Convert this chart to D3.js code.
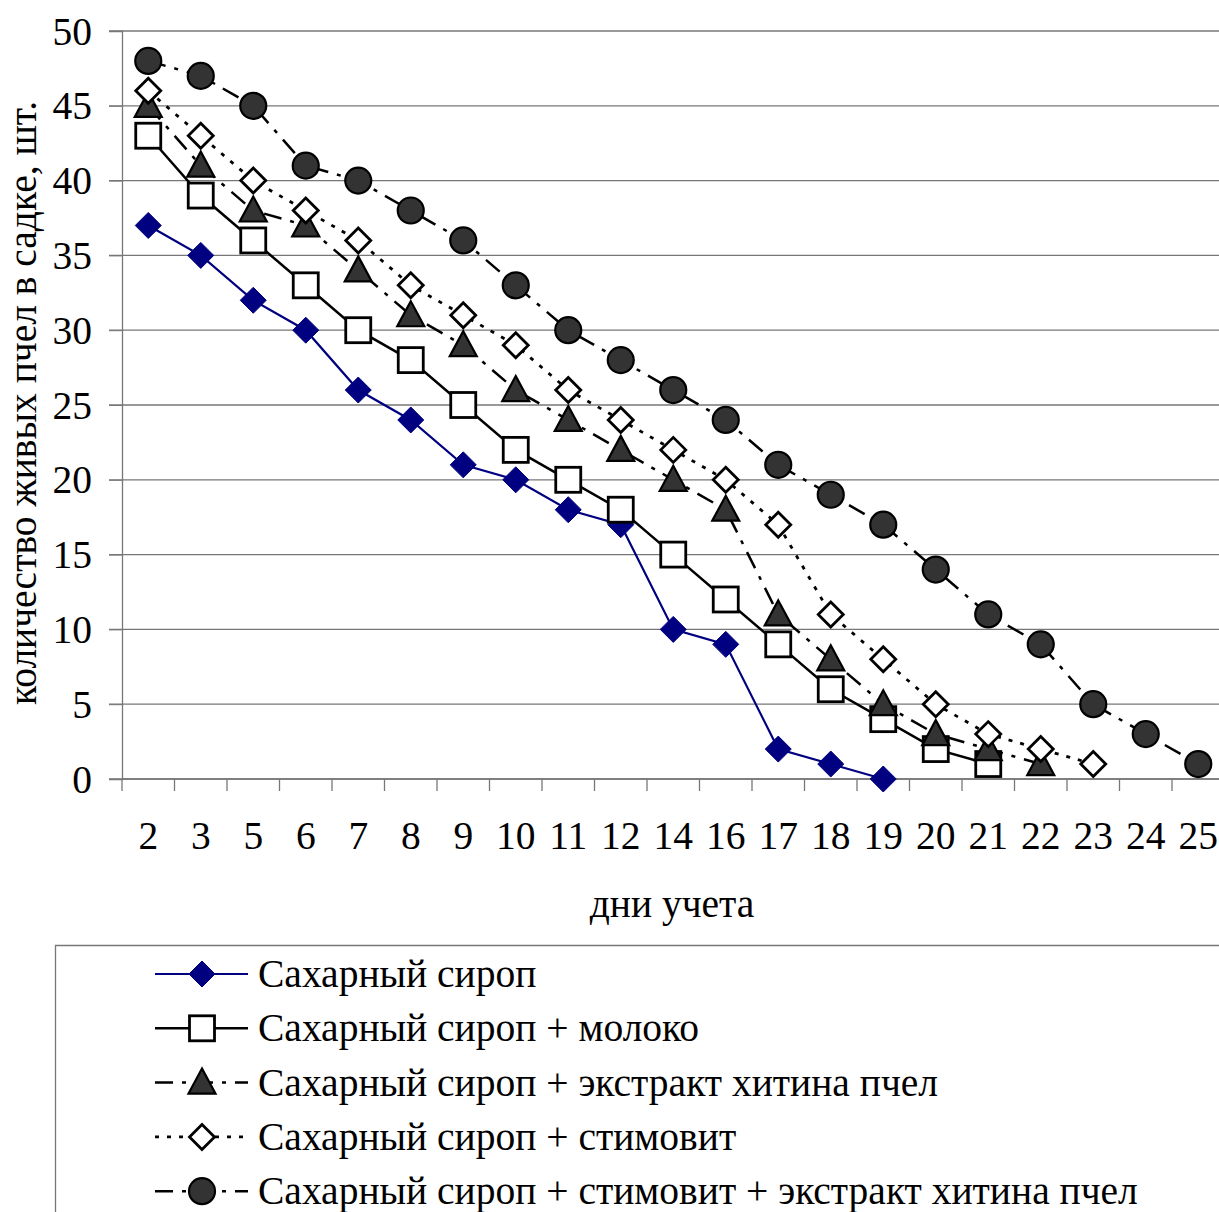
<!DOCTYPE html>
<html>
<head>
<meta charset="utf-8">
<script src="https://cdn.jsdelivr.net/npm/d3@7"></script>
<style>
  body { margin: 0; background: #fff; }
  svg text { font-family: "Liberation Serif", "Times New Roman", serif; fill: #000; }
</style>
</head>
<body>
<div id="chart"></div>
<script>
var days = ["2", "3", "5", "6", "7", "8", "9", "10", "11", "12", "14", "16", "17", "18", "19", "20", "21", "22", "23", "24", "25"];
var syrup = [37, 35, 32, 30, 26, 24, 21, 20, 18, 17, 10, 9, 2, 1, 0];
var syrupMilk = [43, 39, 36, 33, 30, 28, 25, 22, 20, 18, 15, 12, 9, 6, 4, 2, 1];
var syrupChitin = [45, 41, 38, 37, 34, 31, 29, 26, 24, 22, 20, 18, 11, 8, 5, 3, 2, 1];
var syrupStim = [46, 43, 40, 38, 36, 33, 31, 29, 26, 24, 22, 20, 17, 11, 8, 5, 3, 2, 1];
var syrupStimChitin = [48, 47, 45, 41, 40, 38, 36, 33, 30, 28, 26, 24, 21, 19, 17, 14, 11, 9, 5, 3, 1];
var seriesNames = [
    "Сахарный сироп",
    "Сахарный сироп + молоко",
    "Сахарный сироп + экстракт хитина пчел",
    "Сахарный сироп + стимовит",
    "Сахарный сироп + стимовит + экстракт хитина пчел"
];
var yTicks = [0, 5, 10, 15, 20, 25, 30, 35, 40, 45, 50];

var series = [
    {name: seriesNames[0], values: syrup, color: "#000080", dash: null, marker: "diamond", fill: "#000080", width: 2.2},
    {name: seriesNames[1], values: syrupMilk, color: "#000", dash: null, marker: "square", fill: "#fff", width: 2.5},
    {name: seriesNames[2], values: syrupChitin, color: "#000", dash: "18,9,4,9", marker: "triangle", fill: "#333", width: 2.5},
    {name: seriesNames[3], values: syrupStim, color: "#000", dash: "4,8", marker: "odiamond", fill: "#fff", width: 2.8},
    {name: seriesNames[4], values: syrupStimChitin, color: "#000", dash: "18,9,4,9", marker: "circle", fill: "#333", width: 2.5}
];

var W = 1219, H = 1212;
var plotLeft = 122, plotTop = 31, plotBottom = 779;
var bandW = 52.5;
var fontSize = "39.5px";

var svg = d3.select("#chart").append("svg")
    .attr("width", W)
    .attr("height", H);

var x = d3.scaleBand()
    .domain(days)
    .range([plotLeft, plotLeft + bandW * days.length]);

var y = d3.scaleLinear()
    .domain([0, 50])
    .range([plotBottom, plotTop]);

// gridlines
svg.append("g")
    .selectAll("line")
    .data(yTicks)
    .enter()
    .append("line")
    .attr("x1", plotLeft - 13)
    .attr("x2", W)
    .attr("y1", function(d) { return y(d); })
    .attr("y2", function(d) { return y(d); })
    .attr("stroke", "#777")
    .attr("stroke-width", 1.3);

// y axis
var yAxis = svg.append("g")
    .attr("transform", "translate(" + plotLeft + ",0)")
    .call(d3.axisLeft(y).tickValues(yTicks).tickSize(13).tickPadding(17));
yAxis.select(".domain").attr("stroke", "#777").attr("stroke-width", 1.3);
yAxis.selectAll(".tick line").attr("stroke", "#777");
yAxis.selectAll("text")
    .style("font-size", fontSize)
    .attr("font-family", null)
    .attr("dy", "0.33em");

// x axis: ticks at category boundaries
var xAxis = svg.append("g")
    .attr("transform", "translate(0," + plotBottom + ")");
xAxis.append("line")
    .attr("x1", plotLeft).attr("x2", W)
    .attr("stroke", "#777").attr("stroke-width", 1.3);
xAxis.selectAll(".bt")
    .data(days)
    .enter()
    .append("line")
    .attr("x1", function(d) { return x(d); })
    .attr("x2", function(d) { return x(d); })
    .attr("y1", 0).attr("y2", 12)
    .attr("stroke", "#777").attr("stroke-width", 1.3);
xAxis.selectAll("text")
    .data(days)
    .enter()
    .append("text")
    .attr("x", function(d) { return x(d) + x.bandwidth() / 2; })
    .attr("y", 70)
    .attr("text-anchor", "middle")
    .style("font-size", fontSize)
    .text(function(d) { return d; });

// axis titles
svg.append("text")
    .attr("x", 672)
    .attr("y", 917)
    .attr("text-anchor", "middle")
    .style("font-size", fontSize)
    .text("дни учета");

svg.append("text")
    .attr("transform", "translate(36,403) rotate(-90)")
    .attr("text-anchor", "middle")
    .style("font-size", fontSize)
    .text("количество живых пчел в садке, шт.");

function drawMarker(g, type, fill, color) {
    if (type == "diamond") {
        g.append("path").attr("d", "M0,-13L13,0L0,13L-13,0Z")
            .attr("fill", fill).attr("stroke", color).attr("stroke-width", 1);
    } else if (type == "odiamond") {
        g.append("path").attr("d", "M0,-12.5L12.5,0L0,12.5L-12.5,0Z")
            .attr("fill", fill).attr("stroke", color).attr("stroke-width", 2.8);
    } else if (type == "square") {
        g.append("rect").attr("x", -12.5).attr("y", -12.5).attr("width", 25).attr("height", 25)
            .attr("fill", fill).attr("stroke", color).attr("stroke-width", 2.8);
    } else if (type == "triangle") {
        g.append("path").attr("d", "M0,-14L13.5,11L-13.5,11Z")
            .attr("fill", fill).attr("stroke", color).attr("stroke-width", 2.2);
    } else if (type == "circle") {
        g.append("circle").attr("r", 13)
            .attr("fill", fill).attr("stroke", color).attr("stroke-width", 2.2);
    }
}

var line = d3.line()
    .x(function(d, i) { return x(days[i]) + x.bandwidth() / 2; })
    .y(function(d) { return y(d); });

series.forEach(function(s) {
    var g = svg.append("g");
    g.append("path")
        .attr("d", line(s.values))
        .attr("fill", "none")
        .attr("stroke", s.color)
        .attr("stroke-width", s.width)
        .attr("stroke-dasharray", s.dash);
    s.values.forEach(function(v, i) {
        var m = g.append("g")
            .attr("transform", "translate(" + (x(days[i]) + x.bandwidth() / 2) + "," + y(v) + ")");
        drawMarker(m, s.marker, s.fill, s.color);
    });
});

// legend
var legend = svg.append("g");
legend.append("path")
    .attr("d", "M55.5," + (H + 2) + "V945.5H" + (W + 2))
    .attr("fill", "none")
    .attr("stroke", "#777")
    .attr("stroke-width", 1.3);

series.forEach(function(s, i) {
    var ly = 974 + i * 54.3;
    var row = legend.append("g").attr("transform", "translate(0," + ly + ")");
    row.append("line")
        .attr("x1", 155).attr("x2", 248)
        .attr("stroke", s.color)
        .attr("stroke-width", s.width)
        .attr("stroke-dasharray", s.dash);
    var m = row.append("g").attr("transform", "translate(202,0)");
    drawMarker(m, s.marker, s.fill, s.color);
    row.append("text")
        .attr("x", 258)
        .attr("y", 0)
        .attr("dy", "0.33em")
        .style("font-size", fontSize)
        .text(s.name);
});
</script>
</body>
</html>
